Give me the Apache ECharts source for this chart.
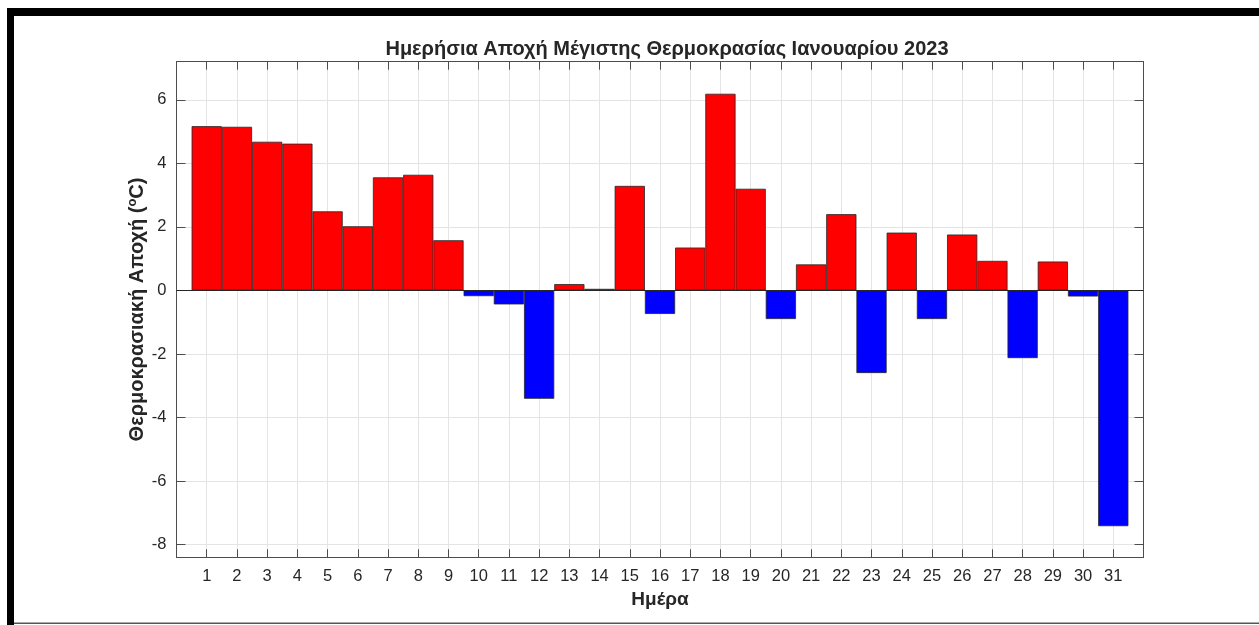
<!DOCTYPE html>
<html>
<head>
<meta charset="utf-8">
<script src="https://cdn.jsdelivr.net/npm/echarts@6/dist/echarts.min.js"></script>
<style>
  html, body { margin: 0; padding: 0; background: #fff; }
  #chart { width: 1259px; height: 625px; }
</style>
</head>
<body>
<div id="chart"></div>
<script>
var days = [1, 2, 3, 4, 5, 6, 7, 8, 9, 10, 11, 12, 13, 14, 15, 16, 17, 18, 19, 20, 21, 22, 23, 24, 25, 26, 27, 28, 29, 30, 31];
var anomalies = [5.17, 5.15, 4.68, 4.62, 2.49, 2.02, 3.56, 3.64, 1.58, -0.18, -0.44, -3.41, 0.20, 0.05, 3.29, -0.74,
                 1.35, 6.19, 3.20, -0.90, 0.82, 2.40, -2.60, 1.82, -0.90, 1.76, 0.93, -2.13, 0.91, -0.19, -7.42];
var titulo = 'Ημερήσια Αποχή Μέγιστης Θερμοκρασίας Ιανουαρίου 2023';
var xTitulo = 'Ημέρα';

function barrasAnomalia(contenedor) {
    var myChart = echarts.init(document.getElementById(contenedor));
    var datos = days.map(function (d, i) { return [d, anomalies[i]]; });
    var txt = '#262626';
    var eje = '#4d4d4d';
    var rejilla = '#e4e4e4';

    var option = {
        backgroundColor: '#fff',
        animation: false,
        textStyle: { fontFamily: 'Liberation Sans, Arial, sans-serif' },
        title: {
            text: titulo,
            left: 662,
            textAlign: 'center',
            top: 34,
            textStyle: { fontSize: 20, fontWeight: 'bold', color: txt }
        },
        grid: { left: 176.5, right: 115.5, top: 61.7, bottom: 67.7, containLabel: false },
        xAxis: [{
            type: 'value',
            min: 0,
            max: 32,
            interval: 1,
            name: xTitulo,
            nameLocation: 'middle',
            nameGap: 33,
            nameMoveOverlap: false,
            nameTextStyle: { fontSize: 19, fontWeight: 'bold', color: txt },
            axisLine: { show: true, onZero: false, lineStyle: { color: eje, width: 1 } },
            axisTick: { show: true, inside: true, length: 8, lineStyle: { color: eje } },
            axisLabel: {
                margin: 11,
                fontSize: 16.5,
                color: txt,
                formatter: function (v) { return (v < 1 || v > 31) ? '' : String(v); }
            },
            splitLine: { show: true, lineStyle: { color: rejilla, width: 1 } }
        }, {
            type: 'value',
            position: 'top',
            min: 0,
            max: 32,
            interval: 1,
            axisLine: { show: true, onZero: false, lineStyle: { color: eje, width: 1 } },
            axisTick: { show: true, inside: true, length: 8, lineStyle: { color: eje } },
            axisLabel: { show: false },
            splitLine: { show: false }
        }],
        yAxis: [{
            type: 'value',
            min: -8.4,
            max: 7.2,
            splitNumber: 8,
            name: 'Θερμοκρασιακή Αποχή ({sup|o}C)',
            nameLocation: 'middle',
            nameGap: 28,
            nameMoveOverlap: false,
            nameTextStyle: {
                fontSize: 20, fontWeight: 'bold', color: txt,
                rich: { sup: { fontSize: 13, fontWeight: 'bold', color: txt, verticalAlign: 'top', padding: [0, 0, 10, 0] } }
            },
            axisLine: { show: true, onZero: false, lineStyle: { color: eje, width: 1 } },
            axisTick: { show: true, inside: true, length: 9, lineStyle: { color: eje } },
            axisLabel: {
                margin: 10,
                fontSize: 16.5,
                color: txt,
                showMinLabel: false,
                showMaxLabel: false,
                formatter: function (v) { return Math.abs(v % 2) < 1e-6 ? String(Math.round(v)) : ''; }
            },
            splitLine: { show: true, lineStyle: { color: rejilla, width: 1 } }
        }, {
            type: 'value',
            position: 'right',
            min: -8.4,
            max: 7.2,
            splitNumber: 8,
            axisLine: { show: true, onZero: false, lineStyle: { color: eje, width: 1 } },
            axisTick: { show: true, inside: true, length: 9, lineStyle: { color: eje } },
            axisLabel: { show: false },
            splitLine: { show: false }
        }],
        graphic: [
            { type: 'rect', shape: { x: 7, y: 8, width: 1252, height: 8 }, style: { fill: '#000' } },
            { type: 'rect', shape: { x: 7, y: 8, width: 7, height: 617 }, style: { fill: '#000' } },
            { type: 'rect', shape: { x: 14, y: 622.5, width: 1245, height: 1.5 }, style: { fill: '#555' } }
        ],
        series: [{
            type: 'bar',
            data: datos,
            barWidth: '100%',
            barCategoryGap: '0%',
            itemStyle: {
                color: function (params) {
                    return params.value[1] >= 0 ? '#ff0000' : '#0000ff';
                },
                borderColor: '#262626',
                borderWidth: 0.8
            },
            markLine: {
                silent: true,
                symbol: ['none', 'none'],
                label: { show: false },
                lineStyle: { color: '#262626', width: 1, type: 'solid' },
                data: [{ yAxis: 0 }]
            }
        }]
    };
    myChart.setOption(option, true);
}

barrasAnomalia('chart');
</script>
</body>
</html>
